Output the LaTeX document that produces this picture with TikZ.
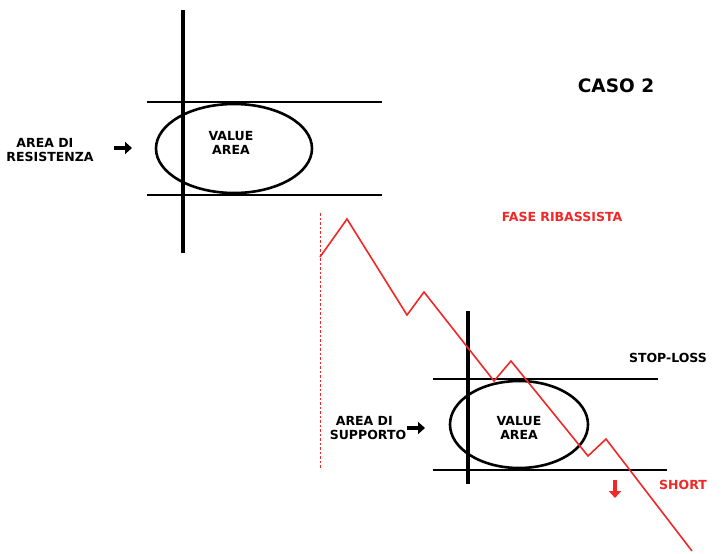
\documentclass[tikz,border=0pt]{standalone}
\usepackage{fontspec}
\setmainfont{DejaVu Sans}
\usetikzlibrary{arrows.meta}
\definecolor{redline}{RGB}{240,40,40}
\begin{document}
\begin{tikzpicture}[x=1pt,y=-1pt,
  lbl/.style={font=\bfseries\fontsize{12.5}{14.5}\selectfont, align=left, inner sep=0pt},
  redlbl/.style={lbl, text=redline},
  thickv/.style={line width=4pt},
  hline/.style={line width=2pt},
  va/.style={line width=2.6pt},
  blkarrow/.style={line width=4pt, -{Triangle[length=7pt,width=12pt]}},
  price/.style={redline, line width=1.6pt, line join=miter}]
\useasboundingbox[fill=white] (0,0) rectangle (728,554);

% upper structure
\draw[thickv] (183,10) -- (183,253);
\draw[hline] (147,102) -- (382,102);
\draw[hline] (147,195) -- (382,195);
\draw[va] (234,148.5) ellipse [x radius=78, y radius=44.5];
\node[lbl, align=center] (va1) at (231,143) {VALUE\\AREA};
\node[lbl] (res) at (50,150) {\hspace*{10pt}AREA DI\\RESISTENZA};
\coordinate (ra1) at (114,148);
\coordinate (ra2) at (132,148);
\draw[blkarrow] (ra1) -- (ra2);

% title and phase
\node[lbl, font=\bfseries\fontsize{18.5}{22}\selectfont] (caso) at (616,86) {CASO 2};
\node[redlbl] (fase) at (562,217) {FASE RIBASSISTA};

% dotted red vertical
\draw[redline, line width=1pt, dash pattern=on 2.5pt off 2pt] (320,213) -- (320,468);

% lower structure
\draw[thickv] (468,311) -- (468,484);
\draw[hline] (433,379) -- (658,379);
\draw[hline] (433,470) -- (667,470);
\draw[va] (519,424.5) ellipse [x radius=69, y radius=43.5];
\node[lbl, align=center] (va2) at (519,428) {VALUE\\AREA};
\node[lbl] (sup) at (368,428) {\hspace*{6pt}AREA DI\\SUPPORTO};
\coordinate (sa1) at (407,428);
\coordinate (sa2) at (425,428);
\draw[blkarrow] (sa1) -- (sa2);

\node[lbl] (stop) at (668,358) {STOP-LOSS};
\node[redlbl] (short) at (683,485) {SHORT};
\coordinate (da1) at (615,480);
\coordinate (da2) at (615,498);
\draw[blkarrow, redline, line width=3.5pt] (da1) -- (da2);

% price path
\coordinate (p0) at (320,257);
\coordinate (p1) at (347,219);
\coordinate (p2) at (407,315);
\coordinate (p3) at (424,292);
\coordinate (p4) at (494,381);
\coordinate (p5) at (511,361);
\coordinate (p6) at (588,456);
\coordinate (p7) at (606,439);
\coordinate (p8) at (692,551);
\draw[price] (p0) -- (p1) -- (p2) -- (p3) -- (p4) -- (p5) -- (p6) -- (p7) -- (p8);
\end{tikzpicture}
\end{document}
